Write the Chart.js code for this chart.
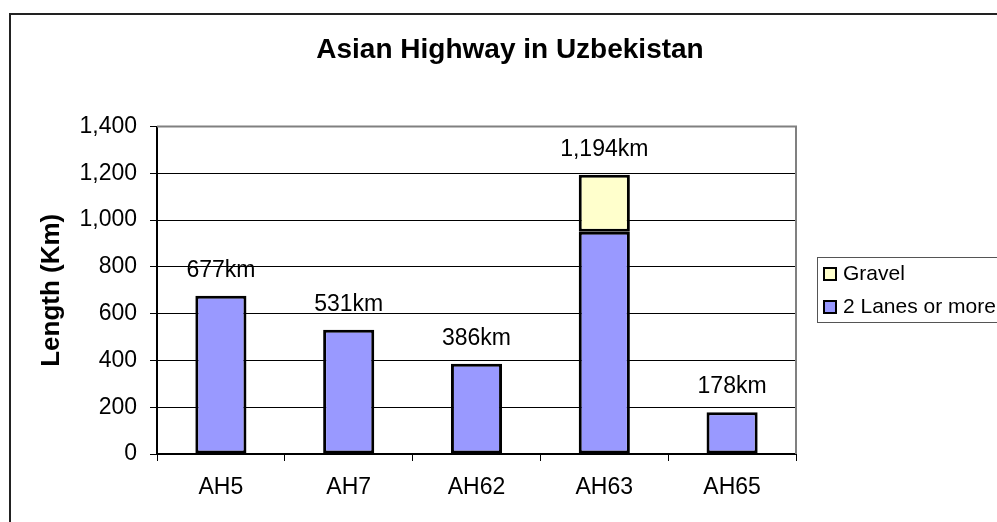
<!DOCTYPE html>
<html>
<head>
<meta charset="utf-8">
<title>Asian Highway in Uzbekistan</title>
<script src="https://cdn.jsdelivr.net/npm/chart.js@4/dist/chart.umd.min.js"></script>
<style>
  html, body { margin: 0; padding: 0; background: #fff; }
  canvas { display: block; }
</style>
</head>
<body>
<canvas id="roadChart" width="997" height="522"></canvas>
<script>
const roads = ['AH5', 'AH7', 'AH62', 'AH63', 'AH65'];
const pavedKm = [677, 531, 386, 950, 178];   // 2 lanes or more
const gravelKm = [null, null, null, 244, null];
const yMax = 1400;
const yStep = 200;

Chart.defaults.font.family = "'Liberation Sans', Arial, sans-serif";
Chart.defaults.color = '#000';

const fmt = v => v.toLocaleString('en-US');

// white page with the outer frame, plot border on top/right
const framePlugin = {
    id: 'frame',
    beforeDraw(chart) {
        const ctx = chart.ctx;
        ctx.save();
        ctx.fillStyle = '#fff';
        ctx.fillRect(0, 0, chart.width, chart.height);
        ctx.strokeStyle = '#222';
        ctx.lineWidth = 2;
        ctx.strokeRect(10, 14, chart.width + 20, chart.height + 20);
        ctx.restore();
    },
    beforeDatasetsDraw(chart) {
        const { ctx, chartArea: a } = chart;
        ctx.save();
        ctx.strokeStyle = '#808080';
        ctx.lineWidth = 2;
        ctx.beginPath();
        ctx.moveTo(a.left, a.top);
        ctx.lineTo(a.right, a.top);
        ctx.lineTo(a.right, a.bottom);
        ctx.stroke();
        ctx.restore();
    }
};

// total length written above each stack
const totalsPlugin = {
    id: 'totals',
    afterDatasetsDraw(chart) {
        const ctx = chart.ctx;
        const xs = chart.scales.x, ys = chart.scales.y;
        ctx.save();
        ctx.font = "23px 'Liberation Sans', Arial, sans-serif";
        ctx.fillStyle = '#000';
        ctx.textAlign = 'center';
        ctx.textBaseline = 'alphabetic';
        roads.forEach((r, i) => {
            const total = (pavedKm[i] || 0) + (gravelKm[i] || 0);
            const x = xs.getPixelForValue(i);
            const y = ys.getPixelForValue(total);
            ctx.fillText(fmt(total) + 'km', x, y - 19);
        });
        ctx.restore();
    }
};

// boxed legend to the right of the plot
const legendBoxPlugin = {
    id: 'legendBox',
    afterDraw(chart) {
        const ctx = chart.ctx;
        const left = 817, top = 257, rowH = 33;
        ctx.save();
        ctx.strokeStyle = '#555';
        ctx.lineWidth = 1;
        ctx.strokeRect(left + 0.5, top + 0.5, 200, 65);
        ctx.font = "21px 'Liberation Sans', Arial, sans-serif";
        ctx.textBaseline = 'middle';
        ctx.textAlign = 'left';
        const items = chart.data.datasets.slice().reverse();
        items.forEach((ds, i) => {
            const cy = top + 17 + i * rowH;
            ctx.fillStyle = ds.backgroundColor;
            ctx.fillRect(left + 7, cy - 6, 12, 12);
            ctx.strokeStyle = '#000';
            ctx.lineWidth = 2;
            ctx.strokeRect(left + 7, cy - 6, 12, 12);
            ctx.fillStyle = '#000';
            ctx.fillText(ds.label, left + 26, cy);
        });
        ctx.restore();
    }
};

new Chart(document.getElementById('roadChart'), {
    type: 'bar',
    data: {
        labels: roads,
        datasets: [
            {
                label: '2 Lanes or more',
                data: pavedKm,
                backgroundColor: '#9999FF',
                borderColor: '#000',
                borderWidth: 3,
                borderSkipped: false,
                categoryPercentage: 1,
                barPercentage: 0.4
            },
            {
                label: 'Gravel',
                data: gravelKm,
                backgroundColor: '#FFFFCC',
                borderColor: '#000',
                borderWidth: 3,
                borderSkipped: false,
                categoryPercentage: 1,
                barPercentage: 0.4
            }
        ]
    },
    options: {
        responsive: false,
        animation: false,
        layout: { padding: { left: 23, right: 0, top: 0, bottom: 0 } },
        plugins: {
            legend: { display: false },
            tooltip: { enabled: false },
            title: {
                display: true,
                text: 'Asian Highway in Uzbekistan',
                color: '#000',
                font: { size: 28, weight: 'bold' },
                padding: { top: 33, bottom: 60 }
            }
        },
        scales: {
            x: {
                stacked: true,
                grid: { drawOnChartArea: false, color: '#000', tickLength: 7, lineWidth: 1 },
                border: { color: '#000', width: 2 },
                ticks: { font: { size: 23 }, color: '#000', padding: 13 },
                afterFit(s) { s.height = 68; }
            },
            y: {
                stacked: true,
                min: 0,
                max: yMax,
                grid: { color: '#000', tickLength: 7, lineWidth: 1 },
                border: { color: '#000', width: 2 },
                ticks: { stepSize: yStep, font: { size: 23 }, color: '#000', padding: 13, callback: v => fmt(v) },
                title: {
                    display: true,
                    text: 'Length (Km)',
                    color: '#000',
                    font: { size: 26, weight: 'bold' },
                    padding: { top: 13, bottom: 0 }
                },
                afterFit(s) { s.width = 134; }
            },
            yRight: {
                position: 'right',
                display: true,
                grid: { display: false },
                border: { display: false },
                ticks: { display: false },
                afterFit(s) { s.width = 201; }
            }
        }
    },
    plugins: [framePlugin, totalsPlugin, legendBoxPlugin]
});
</script>
</body>
</html>
